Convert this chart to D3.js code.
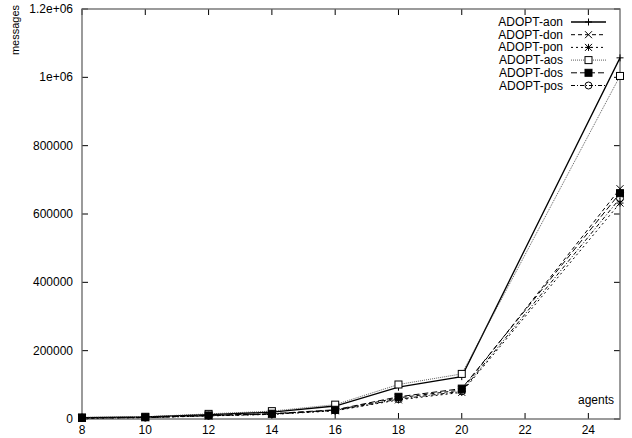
<!DOCTYPE html>
<html>
<head>
<meta charset="utf-8">
<script src="https://d3js.org/d3.v7.min.js"></script>
<style>
	body { margin: 0; background: #fff; }
	text { font-family: "Liberation Sans", Arial, sans-serif; fill: #000; }
</style>
</head>
<body>
<div id='chart'></div>
<script type="text/javascript">
	// x values (number of agents)
	const agents = [8, 10, 12, 14, 16, 18, 20, 25]

	const aon = [4000, 6000, 13000, 20000, 38000, 93000, 124000, 1057000]
	const don = [3000, 4500, 10000, 15000, 26000, 62000, 85000, 674000]
	const pon = [2500, 4000, 9000, 13500, 24000, 56000, 78000, 632000]
	const aos = [4500, 6500, 15000, 23000, 42000, 101000, 132000, 1004000]
	const dos = [3200, 5000, 10500, 15500, 27000, 65000, 89000, 661000]
	const pos = [2800, 4200, 9500, 14000, 25000, 58000, 81000, 646000]

	const seriesNames = ['ADOPT-aon', 'ADOPT-don', 'ADOPT-pon', 'ADOPT-aos', 'ADOPT-dos', 'ADOPT-pos']
	const seriesValues = [aon, don, pon, aos, dos, pos]

	const xTicks = [8, 10, 12, 14, 16, 18, 20, 22, 24]
	const yTicks = [0, 200000, 400000, 600000, 800000, 1000000, 1200000]

	// drawing styles, one per series
	const styles = [
		{dash: null, width: 1.3, color: '#000', marker: 'plus'},
		{dash: '4,3', width: 1, color: '#000', marker: 'cross'},
		{dash: '2,3', width: 1, color: '#000', marker: 'star'},
		{dash: '1,1', width: 0.8, color: '#333', marker: 'square'},
		{dash: '6,3', width: 1, color: '#000', marker: 'filled'},
		{dash: '4,2,1,2', width: 1, color: '#000', marker: 'circle'}
	]

	const W = 632, H = 438
	const m = {l: 82, r: 12, t: 9, b: 19}

	const svg = d3.select('#chart').append('svg')
		.attr('width', W)
		.attr('height', H)

	const sX = d3.scaleLinear().domain([8, 25]).range([m.l, W - m.r])
	const sY = d3.scaleLinear().domain([0, 1200000]).range([H - m.b, m.t])

	// ticks (inward, on all four sides)
	const ticks = svg.append('g').attr('class', 'ticks')
	xTicks.forEach(t => {
		ticks.append('line').attr('x1', sX(t)).attr('x2', sX(t))
			.attr('y1', sY(0)).attr('y2', sY(0) - 6).style('stroke', '#000')
		ticks.append('line').attr('x1', sX(t)).attr('x2', sX(t))
			.attr('y1', sY(1200000)).attr('y2', sY(1200000) + 6).style('stroke', '#000')
		ticks.append('text')
			.attr('x', sX(t)).attr('y', sY(0) + 15)
			.style('text-anchor', 'middle').style('font-size', '12px')
			.text(t)
	})
	yTicks.forEach(t => {
		ticks.append('line').attr('x1', sX(8)).attr('x2', sX(8) + 6)
			.attr('y1', sY(t)).attr('y2', sY(t)).style('stroke', '#000')
		ticks.append('line').attr('x1', sX(25)).attr('x2', sX(25) - 6)
			.attr('y1', sY(t)).attr('y2', sY(t)).style('stroke', '#000')
		ticks.append('text')
			.attr('x', sX(8) - 9).attr('y', sY(t) + 4)
			.style('text-anchor', 'end').style('font-size', '12px')
			.text(t == 0 ? '0' : t % 1000000 == 0 ? (t / 1000000) + 'e+06' : t == 1200000 ? '1.2e+06' : t)
	})

	// frame
	svg.append('rect')
		.attr('x', sX(8)).attr('y', sY(1200000))
		.attr('width', sX(25) - sX(8)).attr('height', sY(0) - sY(1200000))
		.style('fill', 'none').style('stroke', '#666').style('stroke-width', 1.3)

	function drawMarker(g, kind, x, y) {
		const s = 3.5
		if (kind == 'plus' || kind == 'star') {
			g.append('path').attr('d', `M${x-s},${y}H${x+s}M${x},${y-s}V${y+s}`)
				.style('stroke', '#000').style('stroke-width', 1)
		}
		if (kind == 'cross' || kind == 'star') {
			g.append('path').attr('d', `M${x-s},${y-s}L${x+s},${y+s}M${x-s},${y+s}L${x+s},${y-s}`)
				.style('stroke', '#000').style('stroke-width', 1)
		}
		if (kind == 'square' || kind == 'filled') {
			g.append('rect').attr('x', x - s).attr('y', y - s).attr('width', 2 * s).attr('height', 2 * s)
				.style('fill', kind == 'filled' ? '#000' : '#fff').style('stroke', '#000').style('stroke-width', 1)
		}
		if (kind == 'circle') {
			g.append('circle').attr('cx', x).attr('cy', y).attr('r', s)
				.style('fill', 'none').style('stroke', '#000').style('stroke-width', 1)
		}
	}

	const line = d3.line().x(d => sX(d[0])).y(d => sY(d[1]))

	const plot = svg.append('g').attr('class', 'series')
	seriesValues.forEach((vals, i) => {
		const st = styles[i]
		const pts = agents.map((a, j) => [a, vals[j]])
		plot.append('path')
			.attr('d', line(pts))
			.style('fill', 'none')
			.style('stroke', st.color)
			.style('stroke-width', st.width)
			.style('stroke-dasharray', st.dash)
		const mg = plot.append('g')
		pts.forEach(p => drawMarker(mg, st.marker, sX(p[0]), sY(p[1])))
	})

	// legend
	const legend = svg.append('g').attr('class', 'legend')
	seriesNames.forEach((name, i) => {
		const st = styles[i]
		const y = 22 + i * 12.7
		legend.append('text')
			.attr('x', 563).attr('y', y + 4)
			.style('text-anchor', 'end').style('font-size', '12px')
			.text(name)
		legend.append('line')
			.attr('x1', 571).attr('x2', 606).attr('y1', y).attr('y2', y)
			.style('stroke', st.color).style('stroke-width', st.width)
			.style('stroke-dasharray', st.dash)
		drawMarker(legend, st.marker, 588.5, y)
	})

	// axis labels
	svg.append('text')
		.attr('transform', 'translate(19,30) rotate(-90)')
		.style('text-anchor', 'middle').style('font-size', '11px')
		.text('messages')
	svg.append('text')
		.attr('x', 614).attr('y', 404)
		.style('text-anchor', 'end').style('font-size', '12px')
		.text('agents')
</script>
</body>
</html>
